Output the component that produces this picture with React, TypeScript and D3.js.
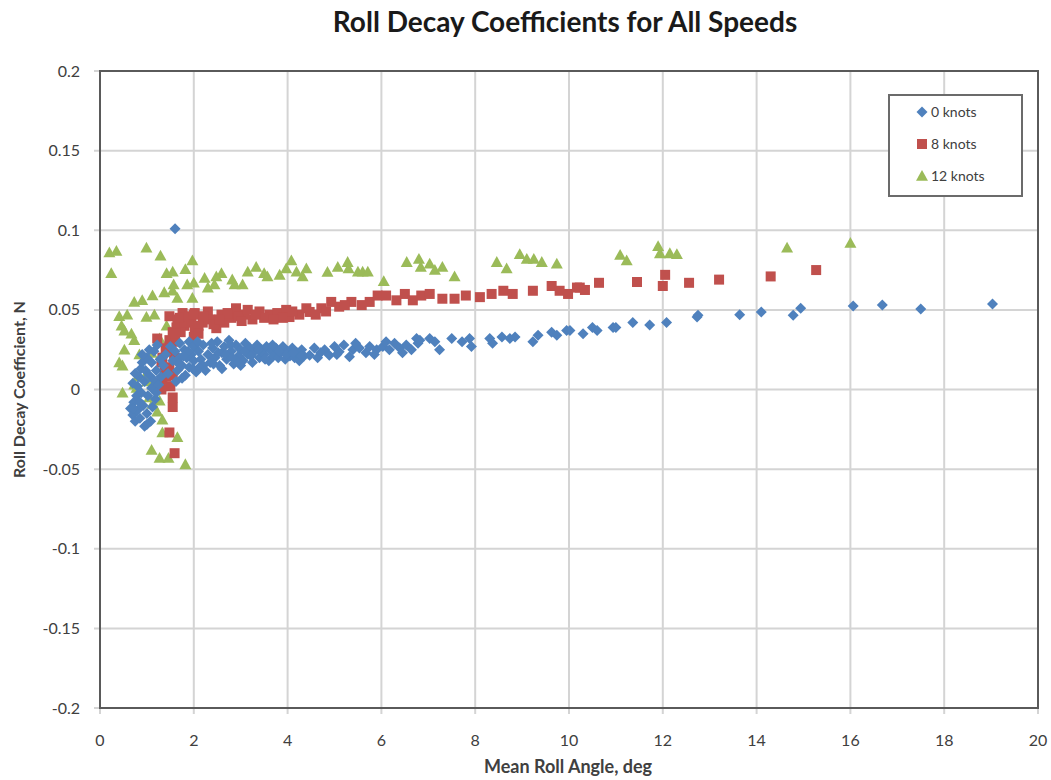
import React from "react";
import * as d3 from "d3";

const seriesNames = ["0 knots", "8 knots", "12 knots"];
const seriesColors = ["#4F81BD", "#C0504D", "#9BBB59"];
const xTicks = [0, 2, 4, 6, 8, 10, 12, 14, 16, 18, 20];
const yTicks = [0.2, 0.15, 0.1, 0.05, 0, -0.05, -0.1, -0.15, -0.2];
const yTickLabels = ["0.2", "0.15", "0.1", "0.05", "0", "-0.05", "-0.1", "-0.15", "-0.2"];

const knots0: [number, number][] = [
  [0.65,-0.012],[0.7,-0.016],[0.72,-0.008],[0.75,-0.02],[0.78,-0.004],[0.8,0.002],[0.8,-0.013],[0.83,0.008],
  [0.85,-0.018],[0.87,0.013],[0.88,-0.002],[0.9,0.017],[0.92,-0.01],[0.95,-0.023],[0.95,0.005],[0.97,0.012],
  [1.0,-0.015],[1.0,0.02],[1.02,-0.004],[1.05,0.009],[1.08,-0.02],[1.1,0.017],[1.1,0.001],[1.12,-0.011],
  [1.15,0.024],[1.15,0.006],[1.18,-0.006],[1.2,0.012],[1.22,0.028],[1.25,0.003],[1.28,0.019],[1.3,0.008],
  [0.75,0.01],[0.7,0.004],[0.9,0.022],[1.05,0.025],[0.85,-0.008],[1.0,-0.022],[0.72,-0.012],[1.2,-0.002],
  [1.35,0.015],[1.4,0.022],[1.45,0.01],[1.5,0.027],[1.55,0.018],[1.6,0.024],[1.65,0.012],[1.7,0.029],
  [1.7,0.02],[1.75,0.015],[1.8,0.025],[1.82,0.009],[1.85,0.02],[1.9,0.03],[1.9,0.014],[1.95,0.022],
  [2.0,0.018],[2.0,0.027],[2.05,0.011],[2.1,0.024],[2.15,0.019],[2.2,0.028],[2.2,0.015],[1.6,0.101],
  [1.62,0.005],[1.75,0.007],[1.88,0.024],[1.98,0.013],[2.08,0.03],[1.68,0.016],[1.78,0.021],[2.12,0.014],
  [2.3,0.022],[2.35,0.017],[2.4,0.026],[2.45,0.02],[2.5,0.03],[2.55,0.015],[2.6,0.023],[2.65,0.027],
  [2.7,0.019],[2.75,0.031],[2.8,0.024],[2.85,0.016],[2.9,0.028],[2.95,0.021],[3.0,0.025],[3.05,0.018],
  [3.1,0.029],[3.15,0.022],[3.2,0.026],[3.25,0.017],[3.3,0.024],[3.35,0.028],[3.4,0.02],[3.45,0.025],
  [3.5,0.022],[3.55,0.027],[3.6,0.018],[3.65,0.024],[3.7,0.021],[3.75,0.026],[3.8,0.02],[3.85,0.023],
  [3.9,0.027],[3.95,0.019],[4.0,0.024],[4.05,0.021],[4.1,0.026],[4.15,0.02],[4.2,0.023],[4.25,0.018],
  [4.3,0.025],[4.35,0.021],[2.6,0.013],[3.0,0.015],[2.25,0.012],
  [2.38,0.029],[2.52,0.023],[2.68,0.022],[2.78,0.028],[2.92,0.018],[3.08,0.024],[3.22,0.021],[3.38,0.025],
  [3.52,0.019],[3.68,0.028],[3.82,0.024],[3.98,0.022],[4.12,0.023],[4.28,0.021],[2.42,0.016],[2.82,0.02],
  [4.47,0.0215],[4.57,0.026],[4.64,0.02],[4.79,0.025],[4.89,0.0215],[5.0,0.027],[5.1,0.0237],[5.2,0.028],
  [5.32,0.0205],[5.39,0.025],[5.53,0.026],[5.67,0.023],[5.75,0.027],[5.9,0.025],[6.03,0.027],[6.17,0.025],
  [6.28,0.029],[6.39,0.026],[6.53,0.028],[6.64,0.025],[6.75,0.032],[6.78,0.029],[4.7,0.023],[5.05,0.022],
  [5.45,0.029],[5.85,0.022],[6.1,0.03],[6.45,0.023],
  [6.82,0.031],[7.03,0.032],[7.14,0.03],[7.24,0.025],[7.5,0.032],[7.72,0.03],[7.88,0.032],[7.92,0.027],
  [8.31,0.032],[8.37,0.029],[8.57,0.033],[8.74,0.032],[8.85,0.033],[9.23,0.03],[9.34,0.034],[9.63,0.036],
  [9.74,0.034],[9.95,0.037],
  [10.02,0.037],[10.3,0.035],[10.5,0.039],[10.6,0.037],[10.94,0.039],[11.0,0.039],[11.36,0.042],[11.72,0.0405],
  [12.08,0.042],[12.73,0.0455],[12.75,0.0467],[13.64,0.047],[14.1,0.0487],[14.78,0.0467],[14.94,0.051],
  [16.06,0.0525],[16.68,0.053],[17.5,0.0505],[19.03,0.0537],
];

const knots8: [number, number][] = [
  [1.59,-0.04],[1.48,-0.027],[1.55,-0.011],[1.55,-0.005],[1.31,0.0],[1.33,0.006],[1.31,0.017],[1.33,0.02],
  [1.22,0.032],[1.52,0.025],[1.48,0.031],[1.55,0.036],[1.48,0.046],[1.65,0.044],[1.63,0.039],[1.76,0.048],
  [1.8,0.04],[1.95,0.042],[2.02,0.037],[2.02,0.048],[1.48,0.014],[1.55,0.009],[1.4,0.026],[1.6,0.03],
  [1.42,0.008],[1.38,0.012],[1.58,0.02],[1.7,0.045],[1.88,0.046],[1.72,0.036],[1.5,0.002],[1.6,0.035],
  [2.0,0.047],[2.0,0.033],[2.19,0.042],[2.3,0.049],[2.48,0.0385],[2.59,0.047],[2.8,0.045],[2.9,0.051],
  [3.08,0.047],[3.25,0.044],[3.4,0.049],[3.61,0.047],[3.78,0.048],[3.97,0.05],[4.04,0.0455],[4.25,0.047],
  [4.4,0.051],[2.1,0.04],[2.35,0.044],[2.65,0.042],[2.95,0.046],[3.15,0.05],[3.5,0.045],[3.9,0.045],[4.1,0.049],
  [2.2,0.046],[2.42,0.041],[2.72,0.048],[3.02,0.043],[3.32,0.047],[3.7,0.044],[2.55,0.044],[2.1,0.035],
  [4.47,0.0487],[4.72,0.051],[4.93,0.055],[5.1,0.052],[5.36,0.055],[5.58,0.053],[5.75,0.055],[5.92,0.059],
  [6.1,0.059],[6.32,0.056],[6.5,0.06],[6.67,0.056],[6.85,0.059],[4.6,0.047],[4.82,0.049],[5.22,0.053],
  [7.03,0.06],[7.3,0.057],[7.56,0.057],[7.8,0.059],[8.1,0.058],[8.35,0.06],[8.6,0.062],[8.8,0.06],
  [9.23,0.062],[9.63,0.065],[9.8,0.062],[9.98,0.06],[10.17,0.064],
  [10.23,0.064],[10.34,0.0625],[10.64,0.067],[11.45,0.0675],[12.05,0.072],[12.0,0.065],[12.56,0.067],
  [13.2,0.069],[14.3,0.071],[15.27,0.075],
];

const knots12: [number, number][] = [
  [0.2,0.086],[0.35,0.087],[0.24,0.073],[0.99,0.089],[1.29,0.084],[1.97,0.081],[1.42,0.073],[1.55,0.074],
  [1.82,0.0755],[2.0,0.067],[0.73,0.055],[0.9,0.056],[1.12,0.059],[1.37,0.061],[1.55,0.062],[1.65,0.0575],
  [1.57,0.066],[1.86,0.066],[1.97,0.0575],[0.41,0.046],[0.58,0.047],[0.99,0.0455],[1.16,0.047],[0.46,0.04],
  [0.52,0.037],[0.67,0.035],[0.73,0.031],[1.42,0.04],[0.52,0.025],[0.41,0.017],[0.48,0.015],[0.84,0.022],
  [1.1,0.023],[1.27,0.032],[0.48,-0.002],[0.8,0.008],[0.78,0.001],[0.99,0.01],[1.01,0.005],[1.12,0.003],
  [1.31,0.003],[1.05,-0.005],[1.12,-0.009],[1.22,-0.014],[1.27,-0.007],[1.33,-0.019],[1.33,-0.027],
  [1.65,-0.03],[1.1,-0.038],[1.27,-0.043],[1.46,-0.043],[1.82,-0.047],[0.73,0.003],
  [2.23,0.07],[2.3,0.064],[2.44,0.066],[2.59,0.073],[2.48,0.071],[2.82,0.069],[2.87,0.066],[3.04,0.066],
  [3.15,0.074],[3.33,0.077],[3.5,0.073],[3.57,0.071],[3.83,0.072],[3.97,0.076],[4.08,0.081],[4.19,0.074],
  [4.32,0.071],[4.4,0.076],
  [4.85,0.0738],[5.07,0.077],[5.28,0.08],[5.3,0.076],[5.5,0.074],[5.6,0.074],[5.71,0.074],[6.05,0.068],
  [6.54,0.08],[6.8,0.082],[6.84,0.077],
  [7.03,0.079],[7.14,0.075],[7.3,0.077],[7.56,0.071],[8.46,0.08],[8.67,0.076],[8.95,0.085],[9.1,0.082],
  [9.25,0.082],[9.42,0.08],[9.74,0.079],
  [11.09,0.0845],[11.23,0.081],[11.9,0.09],[11.94,0.0855],[12.15,0.0855],[12.3,0.085],[14.65,0.089],[16.0,0.092],
];

const W = 1051, H = 780;
const M = { left: 100, right: 1038, top: 71, bottom: 708 };
const FONT = "Lato, 'Open Sans', sans-serif";

function Marker({ kind, x, y, color }: { kind: number; x: number; y: number; color: string }) {
  if (kind === 0) {
    const r = 5.5;
    return <path d={`M${x},${y - r}L${x + r},${y}L${x},${y + r}L${x - r},${y}Z`} fill={color} />;
  }
  if (kind === 1) {
    const s = 10;
    return <rect x={x - s / 2} y={y - s / 2} width={s} height={s} fill={color} />;
  }
  const r = 6;
  return <path d={`M${x},${y - r}L${x + r},${y + r * 0.8}L${x - r},${y + r * 0.8}Z`} fill={color} />;
}

export default function App() {
  const x = d3.scaleLinear().domain([0, 20]).range([M.left, M.right]);
  const y = d3.scaleLinear().domain([-0.2, 0.2]).range([M.bottom, M.top]);
  const series = [knots0, knots8, knots12];
  const order = [2, 1, 0];
  return (
    <svg width={W} height={H} style={{ position: "absolute", left: 0, top: 0, background: "#fff" }} fontFamily={FONT}>
      <rect width={W} height={H} fill="#fff" />
      {xTicks.map((t) => (
        <line key={"gx" + t} x1={x(t)} x2={x(t)} y1={M.top} y2={M.bottom + 6} stroke="#d4d4d4" strokeWidth={2} />
      ))}
      {yTicks.map((t) => (
        <line key={"gy" + t} x1={M.left - 6} x2={M.right} y1={y(t)} y2={y(t)} stroke="#d4d4d4" strokeWidth={2} />
      ))}
      <rect x={M.left} y={M.top} width={M.right - M.left} height={M.bottom - M.top} fill="none" stroke="#5a5a5a" strokeWidth={2} />
      {order.map((si) =>
        series[si].map((p, i) => (
          <Marker key={si + "-" + i} kind={si} x={x(p[0])} y={y(p[1])} color={seriesColors[si]} />
        ))
      )}
      {yTicks.map((t, i) => (
        <text key={"ly" + t} x={M.left - 20} y={y(t)} dy="0.35em" textAnchor="end" fontSize={16} fill="#404040">
          {yTickLabels[i]}
        </text>
      ))}
      {xTicks.map((t) => (
        <text key={"lx" + t} x={x(t)} y={M.bottom + 38} textAnchor="middle" fontSize={16} fill="#404040">
          {t}
        </text>
      ))}
      <text x={565} y={32} textAnchor="middle" fontSize={28} fontWeight="bold" fill="#1a1a1a">
        Roll Decay Coefficients for All Speeds
      </text>
      <text x={568} y={773} textAnchor="middle" fontSize={18} fontWeight="bold" fill="#404040">
        Mean Roll Angle, deg
      </text>
      <text transform={`translate(25,${(M.top + M.bottom) / 2}) rotate(-90)`} textAnchor="middle" fontSize={16} fontWeight="bold" fill="#404040">
        Roll Decay Coefficient, N
      </text>
      <g>
        <rect x={889} y={95} width={133} height={101} fill="#fff" stroke="#6b6b6b" strokeWidth={2} />
        {seriesNames.map((n, i) => (
          <g key={n}>
            <Marker kind={i} x={922} y={112 + i * 32} color={seriesColors[i]} />
            <text x={931} y={112 + i * 32} dy="0.35em" fontSize={14} fill="#404040">{n}</text>
          </g>
        ))}
      </g>
    </svg>
  );
}
